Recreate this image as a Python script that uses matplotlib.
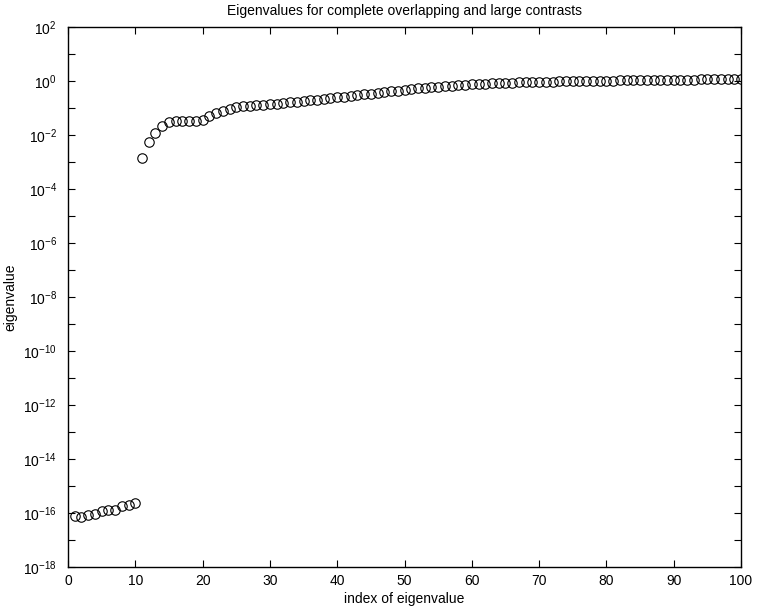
import math
import matplotlib
matplotlib.use("Agg")
import matplotlib.pyplot as plt
from matplotlib.ticker import FixedLocator, FuncFormatter, NullLocator

plt.rcParams['font.family'] = ['Liberation Sans', 'DejaVu Sans']
plt.rcParams['mathtext.fontset'] = 'custom'
plt.rcParams['mathtext.rm'] = 'Liberation Sans'
plt.rcParams['mathtext.it'] = 'Liberation Sans'
plt.rcParams['mathtext.bf'] = 'Liberation Sans'

title = "Eigenvalues for complete overlapping and large contrasts"
xlabel = "index of eigenvalue"
ylabel = "eigenvalue"

index = list(range(1, 101))
eigenvalues = [
    7.5e-17, 7.2e-17, 8.6e-17, 9.2e-17, 1.2e-16, 1.25e-16, 1.3e-16, 1.85e-16, 1.9e-16, 2.3e-16,
    1.4e-3, 5.5e-3, 1.2e-2, 2.1e-2, 3.0e-2, 3.2e-2, 3.3e-2, 3.3e-2, 3.4e-2, 3.6e-2,
    5.0e-2, 6.3e-2, 7.6e-2, 9.2e-2, 0.105, 0.115, 0.12, 0.125, 0.13, 0.138,
    0.145, 0.152, 0.16, 0.17, 0.18, 0.19, 0.20, 0.215, 0.23, 0.245,
    0.26, 0.28, 0.30, 0.32, 0.34, 0.36, 0.38, 0.41, 0.44, 0.47,
    0.50, 0.53, 0.56, 0.59, 0.62, 0.65, 0.68, 0.71, 0.73, 0.75,
    0.77, 0.79, 0.81, 0.83, 0.85, 0.87, 0.89, 0.91, 0.92, 0.93,
    0.94, 0.95, 0.96, 0.97, 0.98, 0.99, 1.00, 1.01, 1.02, 1.03,
    1.04, 1.05, 1.06, 1.07, 1.08, 1.09, 1.10, 1.11, 1.11, 1.12,
    1.12, 1.13, 1.13, 1.14, 1.14, 1.15, 1.15, 1.16, 1.16, 1.17,
]
xticks = list(range(0, 101, 10))
ydecades = list(range(-18, 3))

fig = plt.figure(figsize=(7.57, 6.11), dpi=100)
ax = fig.add_axes([68/757, 44/611, 673/757, 540/611])
ax.semilogy(index, eigenvalues, linestyle='none', marker='o', markersize=6.8,
            markerfacecolor='none', markeredgecolor='black', markeredgewidth=0.8)
ax.set_xlim(0, 100)
ax.set_ylim(1e-18, 1e2)
ax.set_xticks(xticks)
ax.yaxis.set_major_locator(FixedLocator([10.0**k for k in ydecades]))
ax.yaxis.set_minor_locator(NullLocator())


def fmt(v, pos):
    k = int(round(math.log10(v)))
    return r"$10^{%d}$" % k if k % 2 == 0 else ""


ax.yaxis.set_major_formatter(FuncFormatter(fmt))
ax.tick_params(axis='both', which='both', direction='in', top=True, right=True,
               length=5, width=0.8, labelsize=10)
ax.tick_params(axis='y', pad=8)
ax.tick_params(axis='x', pad=5)
for s in ax.spines.values():
    s.set_linewidth(1.0)
ax.set_title(title, fontsize=10, pad=9)
ax.set_xlabel(xlabel, fontsize=10, labelpad=3)
ax.set_ylabel(ylabel, fontsize=10, labelpad=4)
fig.savefig("out.png", dpi=100)
